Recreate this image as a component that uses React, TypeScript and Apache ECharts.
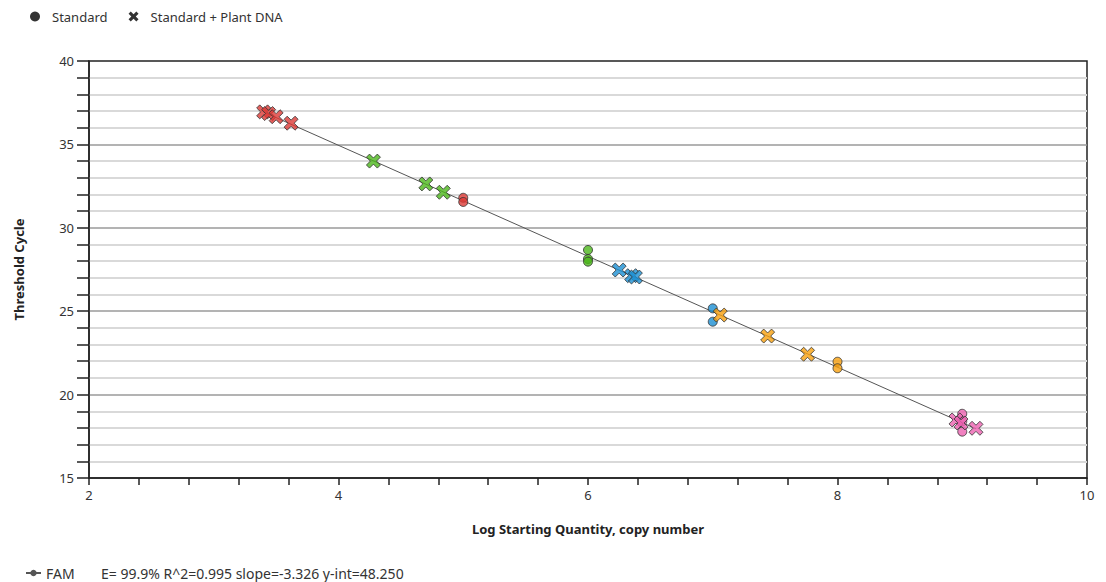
import React, { useEffect, useRef } from "react";
import * as echarts from "echarts";

// Standard (circles): [x, y, colorKey]
const standardPoints: [number, number, string][] = [
  [5.0, 31.8, "red"],
  [5.0, 31.55, "red"],
  [6.0, 28.67, "green"],
  [6.0, 28.13, "green"],
  [6.0, 27.97, "green"],
  [7.0, 25.17, "blue"],
  [7.0, 24.37, "blue"],
  [8.0, 21.97, "orange"],
  [8.0, 21.58, "orange"],
  [9.0, 18.85, "pink"],
  [9.0, 18.4, "pink"],
  [9.0, 17.78, "pink"],
];

// Standard + Plant DNA (crosses)
const plantPoints: [number, number, string][] = [
  [3.4, 36.95, "red"],
  [3.44, 36.85, "red"],
  [3.5, 36.66, "red"],
  [3.62, 36.27, "red"],
  [4.28, 34.0, "green"],
  [4.7, 32.63, "green"],
  [4.84, 32.13, "green"],
  [6.25, 27.47, "blue"],
  [6.35, 27.13, "blue"],
  [6.38, 27.05, "blue"],
  [7.06, 24.77, "orange"],
  [7.44, 23.51, "orange"],
  [7.76, 22.42, "orange"],
  [8.95, 18.48, "pink"],
  [8.99, 18.3, "pink"],
  [9.11, 17.98, "pink"],
];

const fitLine: [number, number][] = [
  [3.4, 36.94],
  [9.11, 17.95],
];

const palette: Record<string, string> = {
  red: "#dc3a36",
  green: "#4cb71c",
  blue: "#1c8fd2",
  orange: "#f7a00e",
  pink: "#ec62b0",
};

const statsText = "E= 99.9% R^2=0.995 slope=-3.326 y-int=48.250";
const FONT = "'Noto Sans', sans-serif";
const CROSS =
  "path://M2.2,0 L5,2.8 L7.8,0 L10,2.2 L7.2,5 L10,7.8 L7.8,10 L5,7.2 L2.2,10 L0,7.8 L2.8,5 L0,2.2 Z";

export default function App() {
  const ref = useRef<HTMLDivElement>(null);
  useEffect(() => {
    if (!ref.current) return;
    const chart = echarts.init(ref.current, null, { renderer: "svg" });
    chart.setOption({
      animation: false,
      textStyle: { fontFamily: FONT },
      legend: [
        {
          left: 25,
          top: 5,
          itemGap: 21,
          itemWidth: 10,
          itemHeight: 10,
          textStyle: { fontSize: 13, color: "#333", fontFamily: FONT, padding: [0, 0, 0, 7] },
          data: [
            { name: "Standard", icon: "circle", itemStyle: { color: "#000" } },
            { name: "Standard + Plant DNA", icon: CROSS, itemStyle: { color: "#000" } },
          ],
        },
        {
          left: 20,
          top: 561,
          itemWidth: 15,
          itemHeight: 8,
          data: [{ name: "FAM" }],
          formatter: () => `{a|FAM}{b|${statsText}}`,
          textStyle: {
            fontSize: 14,
            color: "#333",
            fontFamily: FONT,
            padding: [0, 0, 0, 0],
            rich: {
              a: { width: 55, fontSize: 14, color: "#333", fontFamily: FONT },
              b: { fontSize: 14, color: "#333", fontFamily: FONT },
            },
          },
        },
      ],
      grid: {
        left: 89,
        right: 19,
        top: 61,
        bottom: 104,
        show: true,
        borderColor: "#222",
        borderWidth: 1.5,
        backgroundColor: "transparent",
      },
      xAxis: {
        type: "value",
        min: 2,
        max: 10,
        interval: 2,
        name: "Log Starting Quantity, copy number",
        nameLocation: "middle",
        nameGap: 44,
        nameTextStyle: { fontSize: 13, fontWeight: "bold", color: "#222", fontFamily: FONT },
        axisLine: { show: true, lineStyle: { color: "#222", width: 1.5 } },
        axisTick: { show: true, length: 7, lineStyle: { color: "#222", width: 1.5 } },
        minorTick: { show: true, splitNumber: 5, length: 7, lineStyle: { color: "#222", width: 1.5 } },
        axisLabel: { fontSize: 13, color: "#333", margin: 10, fontFamily: FONT },
        splitLine: { show: false },
      },
      yAxis: {
        type: "value",
        min: 15,
        max: 40,
        interval: 5,
        name: "Threshold Cycle",
        nameLocation: "middle",
        nameGap: 64,
        nameRotate: 90,
        nameTextStyle: { fontSize: 13, fontWeight: "bold", color: "#222", fontFamily: FONT },
        axisLine: { show: true, lineStyle: { color: "#222", width: 1.5 } },
        axisTick: { show: true, length: 12, lineStyle: { color: "#222", width: 1.5 } },
        minorTick: { show: true, splitNumber: 5, length: 12, lineStyle: { color: "#222", width: 1.5 } },
        axisLabel: { fontSize: 13, color: "#333", margin: 15, fontFamily: FONT },
        splitLine: {
          show: true,
          showMinLine: false,
          showMaxLine: false,
          lineStyle: { color: "#9a9a9a", width: 1.5 },
        },
        minorSplitLine: { show: true, lineStyle: { color: "#d9d9d9", width: 2 } },
      },
      series: [
        {
          name: "FAM",
          type: "line",
          data: fitLine,
          symbol: "circle",
          symbolSize: 7,
          showSymbol: false,
          lineStyle: { color: "#555", width: 1 },
          itemStyle: { color: "#555" },
          z: 1,
        },
        {
          name: "Standard",
          type: "scatter",
          symbol: "circle",
          symbolSize: 9,
          itemStyle: { color: "#000" },
          data: standardPoints.map(([x, y, c]) => ({
            value: [x, y],
            itemStyle: { color: palette[c], borderColor: "#333", borderWidth: 1 },
          })),
          z: 3,
        },
        {
          name: "Standard + Plant DNA",
          type: "scatter",
          symbol: CROSS,
          symbolSize: 14,
          itemStyle: { color: "#000" },
          data: plantPoints.map(([x, y, c]) => ({
            value: [x, y],
            itemStyle: { color: palette[c], borderColor: "#333", borderWidth: 1 },
          })),
          z: 4,
        },
      ],
    });
    return () => chart.dispose();
  }, []);
  return (
    <div
      ref={ref}
      style={{ position: "absolute", left: 0, top: 0, width: 1106, height: 582 }}
    />
  );
}
